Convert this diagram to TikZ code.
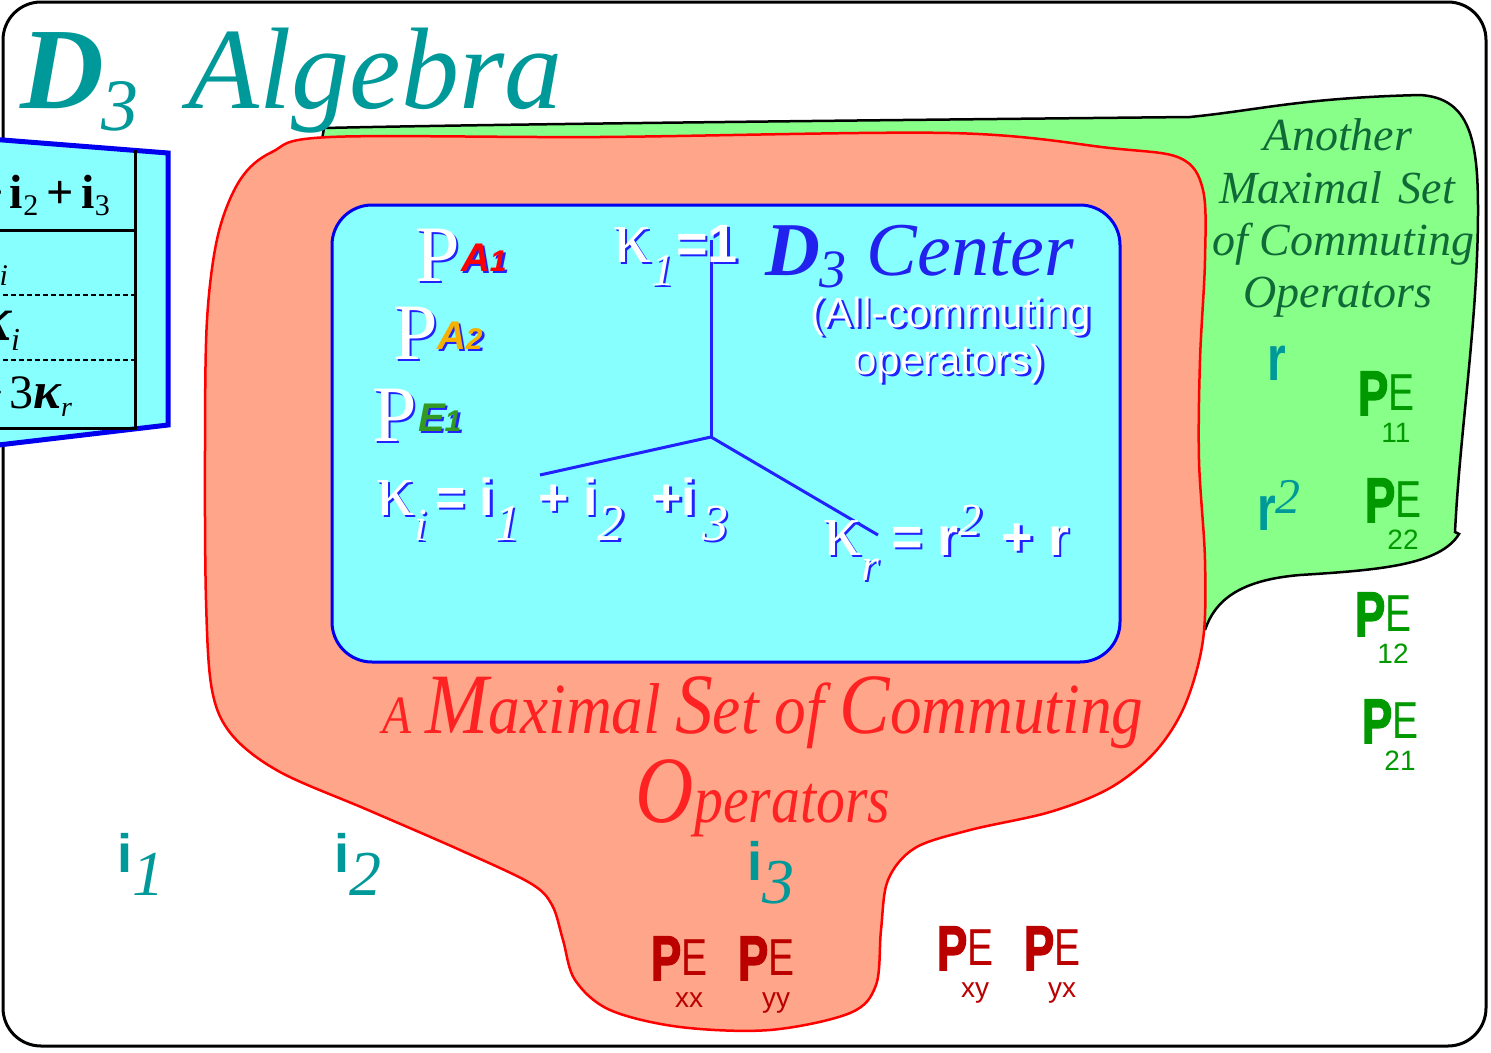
\documentclass[tikz,border=0pt]{standalone}
\usepackage{fontspec}
\usepackage{graphicx}
\setmainfont{Liberation Serif}
\setsansfont{Liberation Sans}
\newfontfamily\heavyfont{Liberation Sans Bold}[FakeBold=2.5]
\definecolor{tealc}{HTML}{009999}
\definecolor{shblue}{HTML}{2222FF}
\definecolor{ctrblue}{HTML}{2222EE}
\definecolor{redtxt}{HTML}{FF2222}
\definecolor{darkred}{HTML}{BB0000}
\definecolor{pegreen}{HTML}{009900}
\definecolor{gtxt}{HTML}{106A38}
\definecolor{a1red}{HTML}{FF0000}
\definecolor{a2orange}{HTML}{F5B000}
\definecolor{e1green}{HTML}{339922}
\definecolor{cyanfill}{HTML}{88FFFF}
\definecolor{salmon}{HTML}{FFA589}
\definecolor{greenfill}{HTML}{88FF88}
\definecolor{tblue}{HTML}{0000EE}
\newcommand\fs[1]{\fontsize{#1}{#1}\selectfont}
\tikzset{
  txt/.style={inner sep=0pt, outer sep=0pt, anchor=base west},
  axisline/.style={draw=shblue, line width=3pt},
}
\newcommand\shnode[5][]{%
  \node[txt,#1,text=shblue,xshift=2.5pt,yshift=-2.5pt] (#3-sh) at (#2) {#5};
  \node[txt,#1,text=#4] (#3) at (#2) {#5};}
\newcommand\pe[5]{%
  \node[txt,text=#4] (#1-P) at (#2,#3) {\heavyfont\fs{63}\scalebox{0.72}[1]{P}};
  \node[txt,text=#4,xshift=30pt,yshift=5pt] (#1-E) at (#2,#3) {\sffamily\fs{52}\scalebox{0.75}[1]{E}};
  \node[txt,anchor=base,text=#4,xshift=38pt,yshift=-27pt] (#1-s) at (#2,#3) {\sffamily\fs{28}#5};}
\begin{document}
\begin{tikzpicture}[x=1pt,y=-1pt]
\useasboundingbox (0,0) rectangle (1491,1052);
\fill[white] (0,0) rectangle (1491,1052);
% outer frame
\draw[line width=3pt, rounded corners=38pt] (3,2) rectangle (1486,1046);
% green region
\fill[greenfill] (322,140) -- (324,128) .. controls (500,124) and (900,120) .. (1190,117)
  .. controls (1260,110) and (1300,98) .. (1420,95)
  .. controls (1470,98) and (1478,140) .. (1478,210)
  .. controls (1478,320) and (1460,430) .. (1455,532) -- (1459,534)
  .. controls (1440,565) and (1380,570) .. (1300,575)
  .. controls (1240,580) and (1215,600) .. (1205,630) -- (1100,640) -- (330,400) -- cycle;
\draw[line width=2.5pt] (322,140) -- (324,128) .. controls (500,124) and (900,120) .. (1190,117)
  .. controls (1260,110) and (1300,98) .. (1420,95)
  .. controls (1470,98) and (1478,140) .. (1478,210)
  .. controls (1478,320) and (1460,430) .. (1455,532) -- (1459,534)
  .. controls (1440,565) and (1380,570) .. (1300,575)
  .. controls (1240,580) and (1215,600) .. (1205,630);
% red region
\filldraw[fill=salmon, draw=red, line width=2.5pt] plot[smooth cycle, tension=0.55] coordinates {
 (330,137) (600,137) (950,133) (1110,148) (1180,158) (1203,190) (1205,260) (1200,360)
 (1199,460) (1205,560) (1203,640) (1185,705) (1155,752) (1110,788) (1050,812) (970,830)
 (915,848) (888,880) (881,930) (876,985) (850,1013) (770,1030) (680,1027) (610,1010)
 (575,980) (563,940) (552,905) (530,883) (460,850) (368,810) (280,772) (232,735)
 (212,690) (206,600) (205,450) (207,320) (218,235) (240,180) (272,152)};
% center box
\filldraw[fill=cyanfill, draw=tblue, line width=3pt, rounded corners=40pt] (332,205) rectangle (1120,662);
\coordinate (hub) at (711,437);
\coordinate (k1end) at (711,240);
\coordinate (kiend) at (540,475);
\coordinate (krend) at (878,535);
\draw[axisline] (hub) -- (k1end);
\draw[axisline] (hub) -- (kiend);
\draw[axisline] (hub) -- (krend);
% projectors in center
\shnode{415,281}{pa1P}{white}{\fs{80}P}
\shnode{461,271}{pa1s}{a1red}{\sffamily\bfseries\itshape\fs{40}A\fs{30}1}
\shnode{393,359}{pa2P}{white}{\fs{80}P}
\shnode{437,349}{pa2s}{a2orange}{\sffamily\bfseries\itshape\fs{40}A\fs{30}2}
\shnode{372,441}{pe1P}{white}{\fs{80}P}
\shnode{418,431}{pe1s}{e1green}{\sffamily\bfseries\itshape\fs{40}E\fs{30}1}
\shnode{613,262}{k1}{white}{\fs{76}κ\raisebox{-23pt}{\itshape\fs{46}1}\kern2pt{\sffamily\bfseries\fs{54}=1}}
\shnode{376,515}{ki}{white}{\fs{76}κ\raisebox{-25pt}{\itshape\fs{46}i}\hspace{8pt}{\sffamily\bfseries\fs{52}= i}\raisebox{-25pt}{\itshape\fs{52}1}\hspace{18pt}{\sffamily\bfseries\fs{52}+ i}\raisebox{-25pt}{\itshape\fs{52}2}\hspace{28pt}{\sffamily\bfseries\fs{52}+i}\kern6pt\raisebox{-25pt}{\itshape\fs{52}3}}
\shnode{823,555}{kr}{white}{\fs{76}κ\raisebox{-25pt}{\itshape\fs{46}r}\hspace{12pt}{\sffamily\bfseries\fs{54}= r}\raisebox{20pt}{\itshape\fs{46}2}\hspace{20pt}{\sffamily\bfseries\fs{54}+ r}}
\node[txt,text=ctrblue] (ctr) at (765,275) {{\bfseries\itshape\fs{76}D}\raisebox{-12pt}{\itshape\fs{54}3}\hspace{20pt}{\itshape\fs{76}Center}};
\shnode[anchor=base]{951,327}{allc}{white}{\sffamily\fs{42}(All-commuting}
\shnode[anchor=base]{949,374}{opsc}{white}{\sffamily\fs{42}operators)}
% red region text
\node[txt,anchor=base,text=redtxt] (maxset) at (763,733) {\scalebox{0.88}[1]{\itshape\fs{72}{\fs{54}A}\hspace{16pt}{\fs{86}M}aximal\hspace{16pt}{\fs{86}S}et of {\fs{86}C}ommuting}};
\node[txt,anchor=base,text=redtxt] (ops) at (763,822) {\scalebox{0.85}[1]{\itshape\fs{68}{\fs{95}O}perators}};
% green region text
\node[txt,anchor=base,text=gtxt] (g1) at (1338,150) {\itshape\fs{46}Another};
\node[txt,anchor=base,text=gtxt] (g2) at (1337,203) {\itshape\fs{46}Maximal\hspace{16pt}Set};
\node[txt,anchor=base,text=gtxt] (g3) at (1343,255) {\itshape\fs{46}of Commuting};
\node[txt,anchor=base,text=gtxt] (g4) at (1338,307) {\itshape\fs{46}Operators};
% teal operators
\node[txt,text=tealc] (r1) at (1267,380) {\sffamily\bfseries\fs{64}\scalebox{0.75}[1]{r}};
\node[txt,text=tealc] (r2) at (1257,530) {\sffamily\bfseries\fs{64}\scalebox{0.75}[1]{r}\raisebox{17pt}{\rmfamily\mdseries\itshape\fs{50}2}};
\node[txt,text=tealc] (i1) at (117,872) {\sffamily\bfseries\fs{54}i\raisebox{-23pt}{\rmfamily\mdseries\itshape\fs{64}1}};
\node[txt,text=tealc] (i2) at (334,872) {\sffamily\bfseries\fs{54}i\raisebox{-23pt}{\rmfamily\mdseries\itshape\fs{64}2}};
\node[txt,text=tealc] (i3) at (747,880) {\sffamily\bfseries\fs{54}i\raisebox{-23pt}{\rmfamily\mdseries\itshape\fs{64}3}};
% projectors PE
\pe{pe11}{1358}{415}{pegreen}{11}
\pe{pe22}{1365}{522}{pegreen}{22}
\pe{pe12}{1355}{636}{pegreen}{12}
\pe{pe21}{1362}{743}{pegreen}{21}
\pe{pexx}{651}{980}{darkred}{xx}
\pe{peyy}{738}{980}{darkred}{yy}
\pe{pexy}{937}{970}{darkred}{xy}
\pe{peyx}{1024}{970}{darkred}{yx}
% left table (cut off)
\begin{scope}
\clip (0,0) rectangle (200,520);
\filldraw[fill=cyanfill, draw=tblue, line width=5pt] (-10,139) -- (168,153) -- (168,425) -- (-10,446) -- cycle;
\draw[line width=3pt] (135,150) -- (135,430);
\draw[line width=3pt] (-5,230) -- (135,230);
\draw[line width=2.5pt, dash pattern=on 5pt off 3pt] (-5,295) -- (135,295);
\draw[line width=2.5pt, dash pattern=on 5pt off 3pt] (-5,360) -- (135,360);
\draw[line width=3pt] (-5,428) -- (137,428);
\node[txt,anchor=base east] (row1) at (110,208) {\bfseries\fs{48}+\kern6pt i\raisebox{-7pt}{\mdseries\fs{30}2}\kern8pt+\kern8pt i\raisebox{-7pt}{\mdseries\fs{30}3}};
\node[txt,anchor=base east] (row2) at (8,278) {\fs{48}κ\raisebox{-7pt}{\itshape\fs{30}i}};
\node[txt,anchor=base east] (row3) at (20,340) {\bfseries\itshape\fs{64}κ\raisebox{-10pt}{\mdseries\fs{32}i}};
\node[txt,anchor=base east] (row4) at (72,408) {\fs{48}+\kern6pt 3{\bfseries\itshape\fs{52}κ}\raisebox{-8pt}{\itshape\fs{28}r}};
\end{scope}
% title
\node[txt,text=tealc] (title) at (20,108) {\fs{116}{\bfseries\itshape D}\kern-2pt\raisebox{-22pt}{\itshape\fs{74}3}\kern50pt{\itshape Algebra}};
\end{tikzpicture}
\end{document}
